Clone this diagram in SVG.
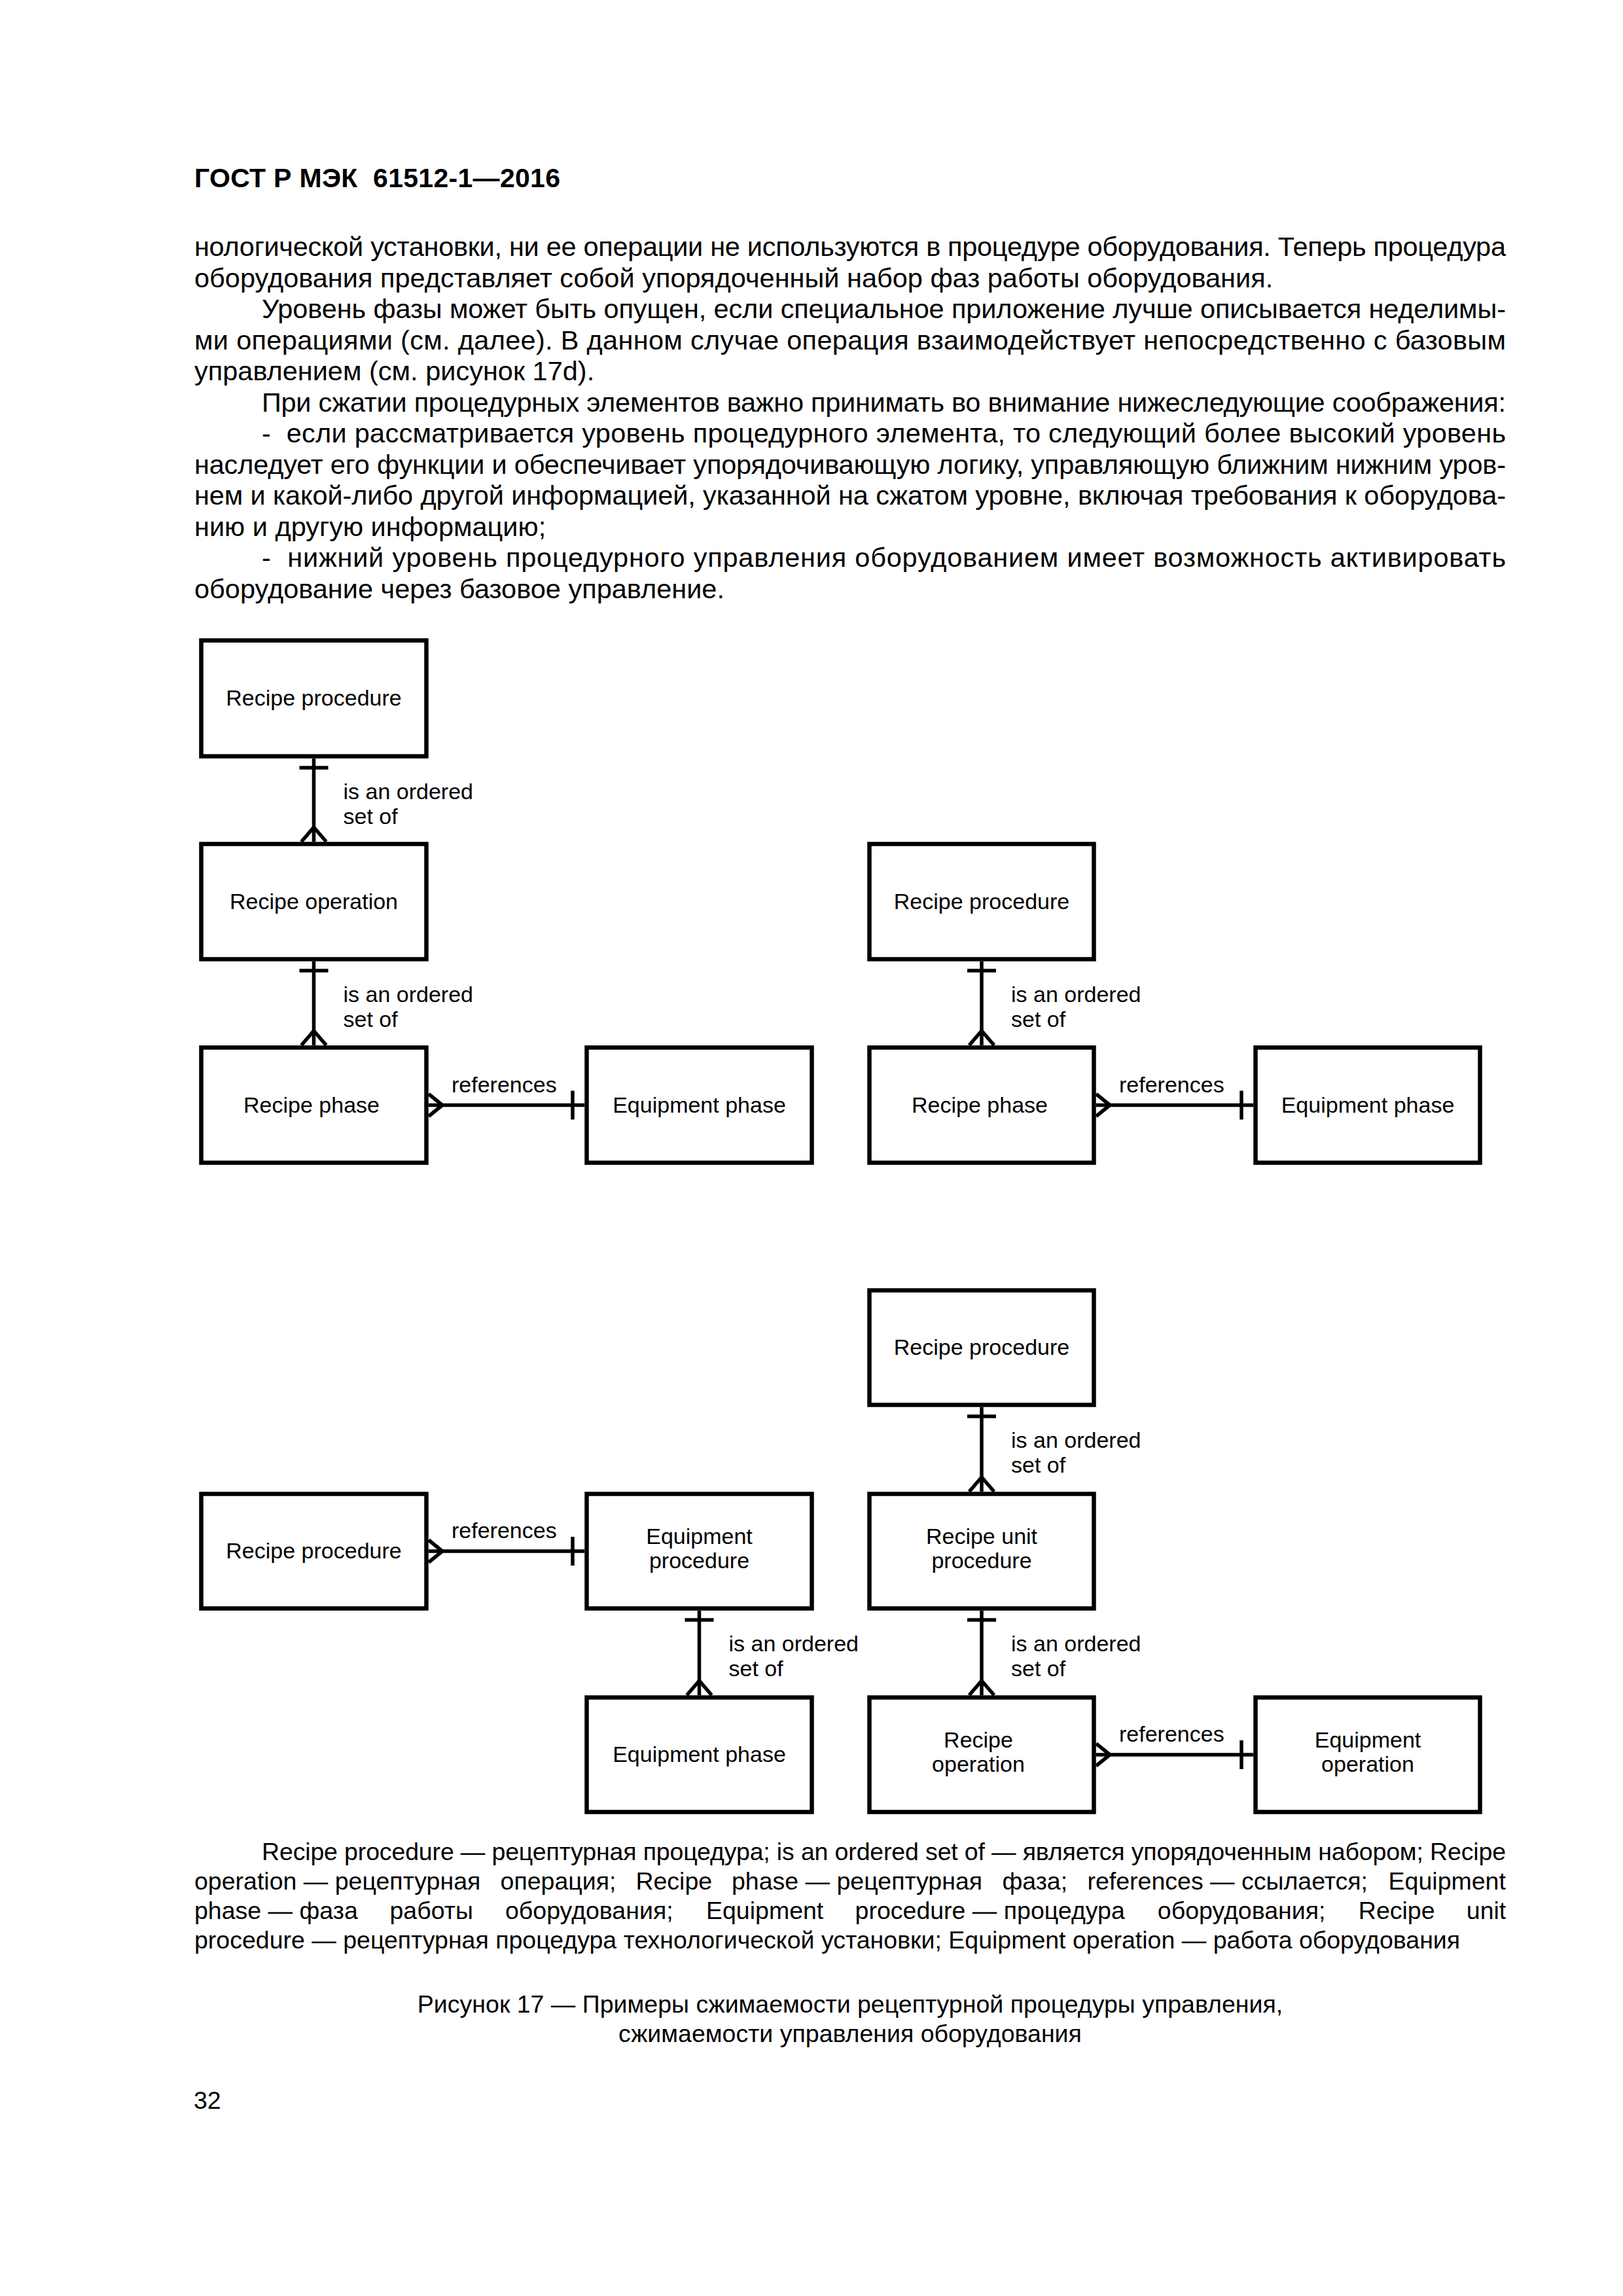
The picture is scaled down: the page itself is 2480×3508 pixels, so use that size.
<svg xmlns="http://www.w3.org/2000/svg" width="2480" height="3508" viewBox="0 0 2480 3508">
<style>
.bg{fill:#fff}
.box{fill:#fff;stroke:#000;stroke-width:6.5}
.ln{fill:none;stroke:#000;stroke-width:5.5}
.lbl{font-family:"Liberation Sans",Arial,sans-serif;font-size:34px;fill:#000}
.c{text-anchor:middle}
.body{font-family:"Liberation Sans",Arial,sans-serif;font-size:41.5px;fill:#000;white-space:pre}
.note{font-family:"Liberation Sans",Arial,sans-serif;font-size:37.5px;fill:#000;white-space:pre}
.hdr{font-family:"Liberation Sans",Arial,sans-serif;font-size:41px;font-weight:bold;fill:#000;white-space:pre}
</style>
<rect class="bg" x="0" y="0" width="2480" height="3508"/>

<g id="page-text">
<text class="hdr" x="297" y="286" textLength="559" lengthAdjust="spacing">ГОСТ Р МЭК  61512-1—2016</text>
<text class="body" x="297" y="391" textLength="2004" lengthAdjust="spacing">нологической установки, ни ее операции не используются в процедуре оборудования. Теперь процедура</text>
<text class="body" x="297" y="438.5">оборудования представляет собой упорядоченный набор фаз работы оборудования.</text>
<text class="body" x="400" y="486" textLength="1901" lengthAdjust="spacing">Уровень фазы может быть опущен, если специальное приложение лучше описывается неделимы-</text>
<text class="body" x="297" y="533.5" textLength="2004" lengthAdjust="spacing">ми операциями (см. далее). В данном случае операция взаимодействует непосредственно с базовым</text>
<text class="body" x="297" y="581">управлением (см. рисунок 17d).</text>
<text class="body" x="400" y="628.5" textLength="1901" lengthAdjust="spacing">При сжатии процедурных элементов важно принимать во внимание нижеследующие соображения:</text>
<text class="body" x="400" y="676" textLength="1901" lengthAdjust="spacing">-  если рассматривается уровень процедурного элемента, то следующий более высокий уровень</text>
<text class="body" x="297" y="723.5" textLength="2004" lengthAdjust="spacing">наследует его функции и обеспечивает упорядочивающую логику, управляющую ближним нижним уров-</text>
<text class="body" x="297" y="771" textLength="2004" lengthAdjust="spacing">нем и какой-либо другой информацией, указанной на сжатом уровне, включая требования к оборудова-</text>
<text class="body" x="297" y="818.5">нию и другую информацию;</text>
<text class="body" x="400" y="866" textLength="1901" lengthAdjust="spacing">-  нижний уровень процедурного управления оборудованием имеет возможность активировать</text>
<text class="body" x="297" y="913.5">оборудование через базовое управление.</text>
</g>

<g id="connectors">
<!-- C1: R1 -> R2 -->
<line class="ln" x1="479.5" y1="1159" x2="479.5" y2="1286"/>
<line class="ln" x1="457.5" y1="1173" x2="501.5" y2="1173"/>
<path class="ln" d="M460.5 1286 L479.5 1264 L498.5 1286"/>
<text class="lbl" x="524.5" y="1221">is an ordered</text>
<text class="lbl" x="524.5" y="1259">set of</text>
<!-- C1: R2 -> R3 -->
<line class="ln" x1="479.5" y1="1469" x2="479.5" y2="1597"/>
<line class="ln" x1="457.5" y1="1483" x2="501.5" y2="1483"/>
<path class="ln" d="M460.5 1597 L479.5 1575 L498.5 1597"/>
<text class="lbl" x="524.5" y="1531">is an ordered</text>
<text class="lbl" x="524.5" y="1569">set of</text>
<!-- R3: C1 -> C2 references -->
<line class="ln" x1="655" y1="1688.5" x2="893" y2="1688.5"/>
<path class="ln" d="M655 1671.5 L676 1688.5 L655 1705.5"/>
<line class="ln" x1="875" y1="1666.5" x2="875" y2="1710.5"/>
<text class="lbl" x="690" y="1668.5">references</text>
<!-- C3: R2 -> R3 -->
<line class="ln" x1="1500" y1="1469" x2="1500" y2="1597"/>
<line class="ln" x1="1478" y1="1483" x2="1522" y2="1483"/>
<path class="ln" d="M1481 1597 L1500 1575 L1519 1597"/>
<text class="lbl" x="1545" y="1531">is an ordered</text>
<text class="lbl" x="1545" y="1569">set of</text>
<!-- R3: C3 -> C4 references -->
<line class="ln" x1="1675" y1="1688.5" x2="1915" y2="1688.5"/>
<path class="ln" d="M1675 1671.5 L1696 1688.5 L1675 1705.5"/>
<line class="ln" x1="1897" y1="1666.5" x2="1897" y2="1710.5"/>
<text class="lbl" x="1710" y="1668.5">references</text>
<!-- R5: C1 -> C2 references -->
<line class="ln" x1="655" y1="2370" x2="893" y2="2370"/>
<path class="ln" d="M655 2353 L676 2370 L655 2387"/>
<line class="ln" x1="875" y1="2348" x2="875" y2="2392"/>
<text class="lbl" x="690" y="2350">references</text>
<!-- C2: R5 -> R6 -->
<line class="ln" x1="1068.5" y1="2461" x2="1068.5" y2="2590"/>
<line class="ln" x1="1046.5" y1="2475" x2="1090.5" y2="2475"/>
<path class="ln" d="M1049.5 2590 L1068.5 2568 L1087.5 2590"/>
<text class="lbl" x="1113.5" y="2523">is an ordered</text>
<text class="lbl" x="1113.5" y="2561">set of</text>
<!-- C3: R4 -> R5 -->
<line class="ln" x1="1500" y1="2150" x2="1500" y2="2279"/>
<line class="ln" x1="1478" y1="2164" x2="1522" y2="2164"/>
<path class="ln" d="M1481 2279 L1500 2257 L1519 2279"/>
<text class="lbl" x="1545" y="2212">is an ordered</text>
<text class="lbl" x="1545" y="2250">set of</text>
<!-- C3: R5 -> R6 -->
<line class="ln" x1="1500" y1="2461" x2="1500" y2="2590"/>
<line class="ln" x1="1478" y1="2475" x2="1522" y2="2475"/>
<path class="ln" d="M1481 2590 L1500 2568 L1519 2590"/>
<text class="lbl" x="1545" y="2523">is an ordered</text>
<text class="lbl" x="1545" y="2561">set of</text>
<!-- R6: C3 -> C4 references -->
<line class="ln" x1="1675" y1="2681" x2="1915" y2="2681"/>
<path class="ln" d="M1675 2664 L1696 2681 L1675 2698"/>
<line class="ln" x1="1897" y1="2659" x2="1897" y2="2703"/>
<text class="lbl" x="1710" y="2661">references</text>
</g>

<g id="n-a-recipe-procedure">
<rect class="box" x="307.5" y="978.5" width="344" height="177"/>
<text class="lbl c" x="479.5" y="1078">Recipe procedure</text>
</g>
<g id="n-a-recipe-operation">
<rect class="box" x="307.5" y="1289.5" width="344" height="176"/>
<text class="lbl c" x="479.5" y="1389">Recipe operation</text>
</g>
<g id="n-a-recipe-phase">
<rect class="box" x="307.5" y="1600.5" width="344" height="176"/>
<text class="lbl c" x="476" y="1700">Recipe phase</text>
</g>
<g id="n-a-equipment-phase">
<rect class="box" x="896.5" y="1600.5" width="344" height="176"/>
<text class="lbl c" x="1068.5" y="1700">Equipment phase</text>
</g>

<g id="n-b-recipe-procedure">
<rect class="box" x="1328.5" y="1289.5" width="343" height="176"/>
<text class="lbl c" x="1500" y="1389">Recipe procedure</text>
</g>
<g id="n-b-recipe-phase">
<rect class="box" x="1328.5" y="1600.5" width="343" height="176"/>
<text class="lbl c" x="1497" y="1700">Recipe phase</text>
</g>
<g id="n-b-equipment-phase">
<rect class="box" x="1918.5" y="1600.5" width="343" height="176"/>
<text class="lbl c" x="2090" y="1700">Equipment phase</text>
</g>

<g id="n-c-recipe-procedure">
<rect class="box" x="307.5" y="2282.5" width="344" height="175"/>
<text class="lbl c" x="479.5" y="2381">Recipe procedure</text>
</g>
<g id="n-c-equipment-procedure">
<rect class="box" x="896.5" y="2282.5" width="344" height="175"/>
<text class="lbl c" x="1068.5" y="2359">Equipment</text>
<text class="lbl c" x="1068.5" y="2396">procedure</text>
</g>
<g id="n-c-equipment-phase">
<rect class="box" x="896.5" y="2593.5" width="344" height="175"/>
<text class="lbl c" x="1068.5" y="2692">Equipment phase</text>
</g>

<g id="n-d-recipe-procedure">
<rect class="box" x="1328.5" y="1971.5" width="343" height="175"/>
<text class="lbl c" x="1500" y="2070">Recipe procedure</text>
</g>
<g id="n-d-recipe-unit-procedure">
<rect class="box" x="1328.5" y="2282.5" width="343" height="175"/>
<text class="lbl c" x="1500" y="2359">Recipe unit</text>
<text class="lbl c" x="1500" y="2396">procedure</text>
</g>
<g id="n-d-recipe-operation">
<rect class="box" x="1328.5" y="2593.5" width="343" height="175"/>
<text class="lbl c" x="1495" y="2670">Recipe</text>
<text class="lbl c" x="1495" y="2707">operation</text>
</g>
<g id="n-d-equipment-operation">
<rect class="box" x="1918.5" y="2593.5" width="343" height="175"/>
<text class="lbl c" x="2090" y="2670">Equipment</text>
<text class="lbl c" x="2090" y="2707">operation</text>
</g>

<g id="caption-text">
<text class="note" x="400" y="2842" textLength="1901" lengthAdjust="spacing">Recipe procedure — рецептурная процедура; is an ordered set of — является упорядоченным набором; Recipe</text>
<text class="note" y="2887"><tspan x="297">operation — рецептурная</tspan><tspan x="764.6">операция;</tspan><tspan x="971.4">Recipe</tspan><tspan x="1118">phase — рецептурная</tspan><tspan x="1531.4">фаза;</tspan><tspan x="1661.5">references — ссылается;</tspan><tspan x="2121.6">Equipment</tspan></text>
<text class="note" y="2932"><tspan x="297">phase — фаза</tspan><tspan x="595.5">работы</tspan><tspan x="772">оборудования;</tspan><tspan x="1079">Equipment</tspan><tspan x="1306.6">procedure — процедура</tspan><tspan x="1768.8">оборудования;</tspan><tspan x="2075.8">Recipe</tspan><tspan x="2240.8">unit</tspan></text>
<text class="note" x="297" y="2977">procedure — рецептурная процедура технологической установки; Equipment operation — работа оборудования</text>
<text class="note c" x="1299" y="3075">Рисунок 17 — Примеры сжимаемости рецептурной процедуры управления,</text>
<text class="note c" x="1299" y="3120">сжимаемости управления оборудования</text>
<text class="note" x="296" y="3222">32</text>
</g>
</svg>
